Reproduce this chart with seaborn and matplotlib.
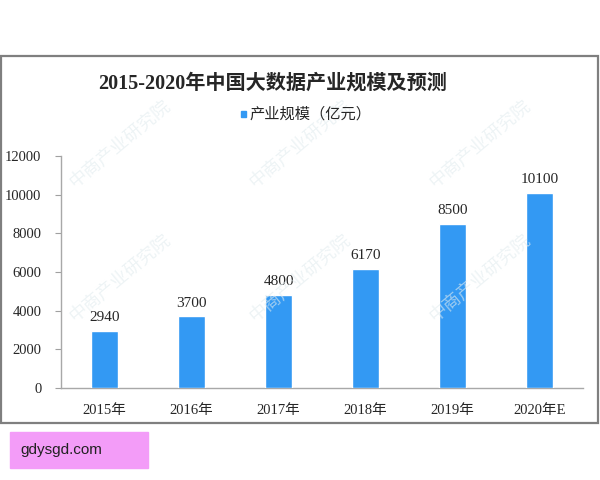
import matplotlib
matplotlib.use("Agg")
import matplotlib.pyplot as plt
import seaborn as sns
import pandas as pd
from matplotlib.patches import Rectangle

years = ["2015年", "2016年", "2017年", "2018年", "2019年", "2020年E"]
scale_values = [2940, 3700, 4800, 6170, 8500, 10100]
y_ticks = [0, 2000, 4000, 6000, 8000, 10000, 12000]
series_name = "产业规模（亿元）"
title_text = "2015-2020年中国大数据产业规模及预测"

sns.set_style("white")
plt.rcParams['font.family'] = ['Liberation Serif', 'Noto Sans CJK SC', 'DejaVu Sans']

df = pd.DataFrame({"year": years, "value": scale_values})

fig = plt.figure(figsize=(6, 4.8), dpi=100)
ax = fig.add_axes([61 / 600, 1 - 388 / 480, 522 / 600, 232 / 480])

bar_color = "#3399F3"
sns.barplot(data=df, x="year", y="value", color=bar_color, width=0.31,
            saturation=1, ax=ax, zorder=3)

ax.set_ylim(0, 12000)
ax.set_xlim(-0.5, len(years) - 0.5)
ax.set_yticks(y_ticks)
ax.set_yticklabels([str(t) for t in y_ticks], fontsize=10.5)
ax.tick_params(axis="y", which="both", left=True, length=4, color="#A0A0A0", pad=10)
ax.tick_params(axis="x", which="both", bottom=False, labelsize=10.5, pad=8)
ax.set_xlabel("")
ax.set_ylabel("")
ax.patch.set_alpha(0)
for s in ["top", "right"]:
    ax.spines[s].set_visible(False)
for s in ["left", "bottom"]:
    ax.spines[s].set_color("#A8A8A8")
    ax.spines[s].set_linewidth(1.0)

for i, v in enumerate(scale_values):
    ax.text(i, v + 350, str(v), ha="center", va="bottom", fontsize=11)

# faint watermarks
for wx, wy in [(0.20, 0.70), (0.50, 0.70), (0.80, 0.70),
               (0.20, 0.42), (0.50, 0.42), (0.80, 0.42)]:
    fig.text(wx, wy, "中商产业研究院", rotation=40, fontsize=13, color="#E2ECEF",
             alpha=0.6, ha="center", va="center", zorder=0,
             family=['Noto Sans CJK SC'])

fig.text(0.455, 1 - 84 / 480, title_text, ha="center", va="center",
         fontsize=14.5, fontweight="bold")

# legend
fig.patches.append(Rectangle((241 / 600, 1 - 117 / 480), 5 / 600, 6 / 480,
                             transform=fig.transFigure, color=bar_color, figure=fig))
fig.text(249 / 600, 1 - 114 / 480, series_name, ha="left", va="center",
         fontsize=11, family=['Noto Sans CJK SC', 'DejaVu Sans'])

# outer frame
fig.patches.append(Rectangle((1 / 600, 1 - 423 / 480), 597 / 600, 367 / 480,
                             transform=fig.transFigure, fill=False,
                             edgecolor="#7F7F7F", linewidth=1.6, figure=fig))

# pink site box
fig.patches.append(Rectangle((10 / 600, 1 - 468 / 480), 138 / 600, 36 / 480,
                             transform=fig.transFigure, color="#F39CF8", figure=fig))
fig.text(20 / 600, 1 - 450 / 480, "gdysgd.com", ha="left", va="center",
         fontsize=11, family=['Liberation Sans', 'DejaVu Sans'], color="#222222")

fig.savefig("out.png", dpi=100)
